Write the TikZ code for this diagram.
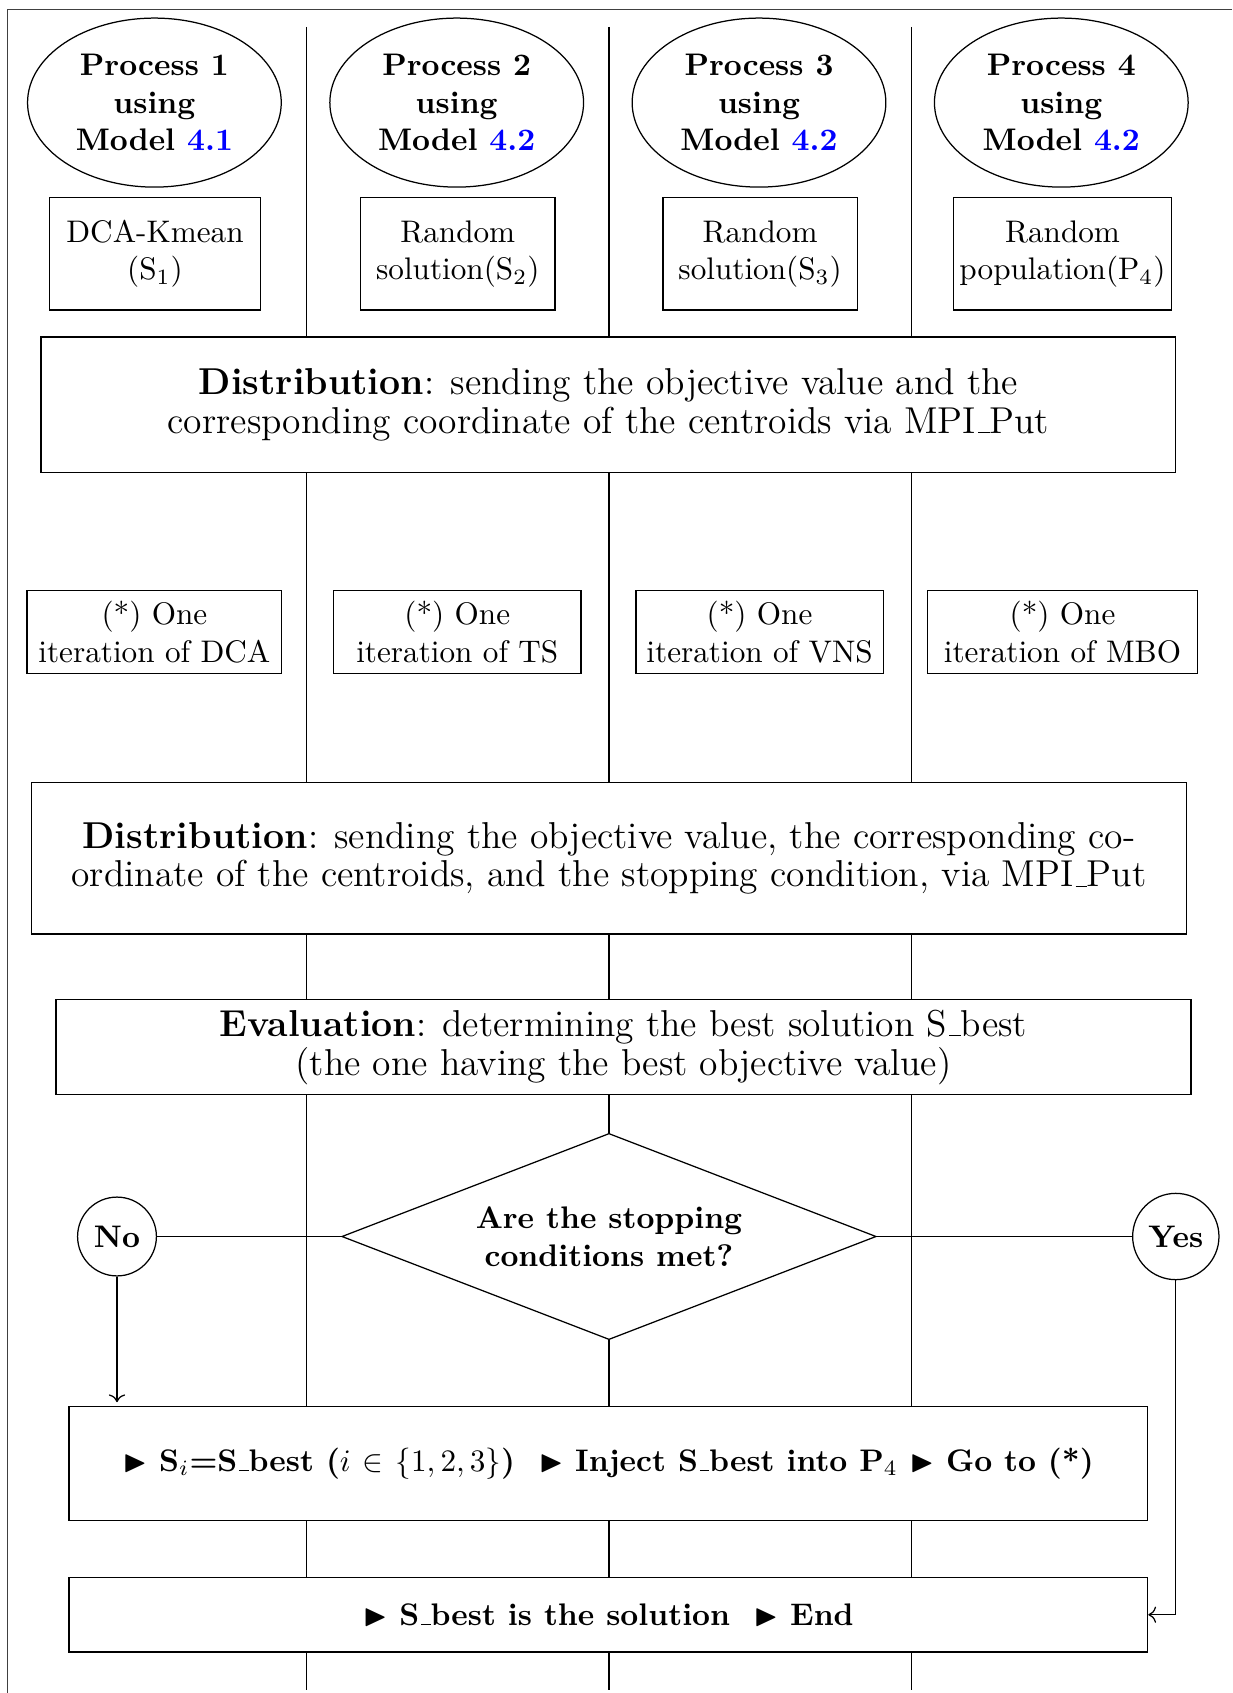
\documentclass[tikz,border=0pt]{standalone}
\usepackage{amssymb}
\usetikzlibrary{shapes.geometric,arrows.meta}
\newcommand{\usc}{\leavevmode\kern.06em\vbox{\hrule width.3em}}
\tikzset{
  sz/.style 2 args={minimum width=#1*0.3205pt, minimum height=#2*0.3205pt},
  box/.style={draw, fill=white, rectangle, inner sep=0pt, align=center},
  proc/.style={draw, fill=white, ellipse, inner sep=0pt, align=center, font=\bfseries, sz={253.7}{169}},
  big/.style={font=\fontsize{12}{12.4}\selectfont},
  bigbf/.style={font=\bfseries},
  answer/.style={draw, fill=white, circle, font=\bfseries},
  decision/.style={draw, fill=white, diamond, aspect=2.6, inner sep=0pt, align=center, font=\bfseries},
  lane/.style={draw, black},
  framec/.style={draw, black!75},
  arr/.style={->}
}
\begin{document}
\begin{tikzpicture}[x=0.3205pt,y=-0.3205pt]
\useasboundingbox (0,0) rectangle (1232,1693);

% frame (partly outside the picture)
\coordinate (fr1) at (1232,9.7);
\coordinate (fr2) at (7.5,9.7);
\coordinate (fr3) at (7.5,1693);
\draw[framec] (fr1) -- (fr2) -- (fr3);

% swim lanes
\coordinate (l1t) at (306.6,27);  \coordinate (l1b) at (306.6,1690);
\coordinate (l2t) at (609,27);    \coordinate (l2b) at (609,1690);
\coordinate (l3t) at (911.3,27);  \coordinate (l3b) at (911.3,1690);
\draw[lane] (l1t) -- (l1b);
\draw[lane] (l2t) -- (l2b);
\draw[lane] (l3t) -- (l3b);

% processes
\node[proc] (e1) at (154.4,102.6) {Process 1\\using\\Model \textcolor{blue}{4.1}};
\node[proc] (e2) at (456.7,102.6) {Process 2\\using\\Model \textcolor{blue}{4.2}};
\node[proc] (e3) at (759,102.6)   {Process 3\\using\\Model \textcolor{blue}{4.2}};
\node[proc] (e4) at (1061.3,102.6){Process 4\\using\\Model \textcolor{blue}{4.2}};

% initial solutions
\node[box, sz={210.5}{112.3}] (b1) at (155,253.8) {DCA-Kmean\\(S$_1$)};
\node[box, sz={194.4}{112.3}] (b2) at (457.8,253.8) {Random\\solution(S$_2$)};
\node[box, sz={194.4}{112.3}] (b3) at (760.1,253.8) {Random\\solution(S$_3$)};
\node[box, sz={218}{112.3}] (b4) at (1062.5,253.8) {Random\\population(P$_4$)};

% distribution 1
\node[box, big, sz={1134.8}{135.4}] (dist1) at (608.4,404.8)
  {\textbf{Distribution}: sending the objective value and the\\corresponding coordinate of the centroids via MPI\usc Put};

% iterations
\node[box, sz={254.8}{83.1}] (it1) at (154.4,632.2) {(*) One\\iteration of DCA};
\node[box, sz={247.3}{83.1}] (it2) at (457.3,632.2) {(*) One\\iteration of TS};
\node[box, sz={247.2}{83.1}] (it3) at (759.6,632.2) {(*) One\\iteration of VNS};
\node[box, sz={269.9}{83.1}] (it4) at (1062.5,632.2) {(*) One\\iteration of MBO};

% distribution 2
\node[box, big, sz={1155.3}{151.1}] (dist2) at (609,858.4)
  {\textbf{Distribution}: sending the objective value, the corresponding co-\\ordinate of the centroids, and the stopping condition, via MPI\usc Put};

% evaluation
\node[box, big, sz={1134.8}{95}] (eval) at (623.5,1047.3)
  {\textbf{Evaluation}: determining the best solution S\usc best\\(the one having the best objective value)};

% decision
\node[decision, sz={534.4}{206.2}] (dia) at (609,1236.5) {Are the stopping\\conditions met?};
\node[answer] (no) at (117,1236.5) {No};
\node[answer] (yes) at (1175.8,1236.5) {Yes};

% outcomes
\node[box, bigbf, sz={1078.6}{113.3}] (inj) at (608.4,1463.5)
  {$\blacktriangleright$ S$_i$=S\usc best ($i$ $\in$ $\{1,2,3\}$)\ \ $\blacktriangleright$ Inject S\usc best into P$_4$ $\blacktriangleright$ Go to (*)};
\node[box, bigbf, sz={1078.6}{74.6}] (fin) at (608.4,1614.7)
  {$\blacktriangleright$ S\usc best is the solution\ \ $\blacktriangleright$ End};

% connectors
\draw (no.east) -- (dia.west);
\draw (dia.east) -- (yes.west);
\draw[arr, shorten >=1.3pt] (no.south) -- (no.south |- inj.north);
\draw[arr] (yes.south) |- (fin.east);
\end{tikzpicture}
\end{document}
